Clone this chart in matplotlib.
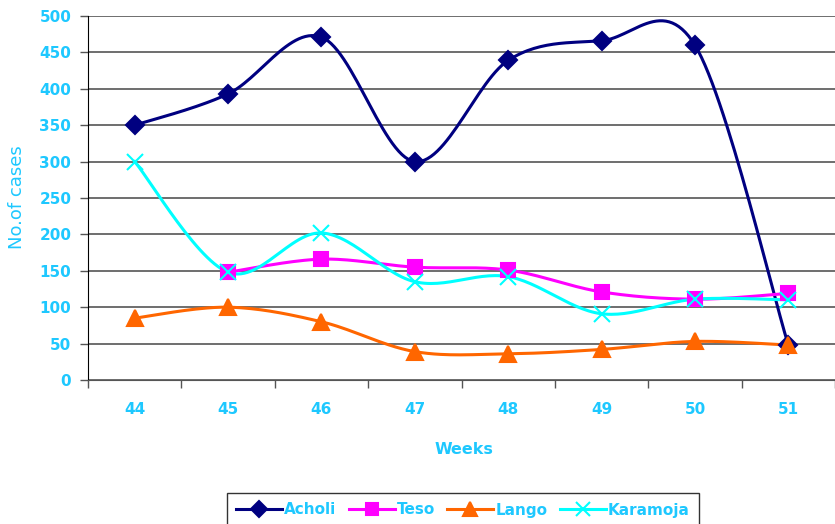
import numpy as np
import matplotlib
matplotlib.use("Agg")
import matplotlib.pyplot as plt
from matplotlib.lines import Line2D

weeks = ["44", "45", "46", "47", "48", "49", "50", "51"]
acholi = [350, 393, 471, 300, 439, 466, 460, 48]
teso = [None, 148, 166, 155, 151, 121, 111, 119]
lango = [85, 100, 80, 39, 36, 42, 53, 48]
karamoja = [300, 148, 202, 135, 142, 91, 111, 110]

blue_txt = "#1ec8ff"


def smooth(xs, ys, n=30):
    # Excel style smoothed line (cardinal bezier through the points)
    xs = np.asarray(xs, float)
    ys = np.asarray(ys, float)
    px, py = [], []
    for i in range(len(xs) - 1):
        x0, y0 = (xs[i - 1], ys[i - 1]) if i > 0 else (xs[i], ys[i])
        x3, y3 = (xs[i + 2], ys[i + 2]) if i + 2 < len(xs) else (xs[i + 1], ys[i + 1])
        x1, y1 = xs[i], ys[i]
        x2, y2 = xs[i + 1], ys[i + 1]
        c1x, c1y = x1 + (x2 - x0) / 6, y1 + (y2 - y0) / 6
        c2x, c2y = x2 - (x3 - x1) / 6, y2 - (y3 - y1) / 6
        t = np.linspace(0, 1, n)
        a, b, c, d = (1 - t) ** 3, 3 * (1 - t) ** 2 * t, 3 * (1 - t) * t ** 2, t ** 3
        px.extend(a * x1 + b * c1x + c * c2x + d * x2)
        py.extend(a * y1 + b * c1y + c * c2y + d * y2)
    return px, py


fig = plt.figure(figsize=(8.35, 5.24), dpi=100)
ax = fig.add_axes([88 / 835, 1 - 380 / 524, 1 - 88 / 835, 364 / 524])

series = [
    ("Acholi", acholi, "#000080", "D", 9),
    ("Teso", teso, "#ff00ff", "s", 10),
    ("Lango", lango, "#ff6600", "^", 11),
    ("Karamoja", karamoja, "#00ffff", "x", 11),
]

handles = []
for name, vals, col, mk, ms in series:
    xs = [i for i, v in enumerate(vals) if v is not None]
    ys = [v for v in vals if v is not None]
    sx, sy = smooth(xs, ys)
    ax.plot(sx, sy, color=col, lw=2.2, zorder=3)
    ax.plot(xs, ys, ls="none", marker=mk, color=col, ms=ms, mew=1.5, zorder=4)
    handles.append(Line2D([], [], color=col, lw=2.2, marker=mk, ms=ms - 1, mew=1.5, label=name))

ax.set_xlim(-0.5, 7.45)
ax.set_ylim(0, 500)
ax.set_yticks(range(0, 501, 50))
ax.set_xticks(range(len(weeks)))
ax.set_xticklabels(weeks)
ax.set_xticks(np.arange(-0.5, 7.6, 1), minor=True)
ax.tick_params(axis="x", which="major", length=0, pad=16)
ax.tick_params(axis="x", which="minor", length=6, width=1, color="#555555")
ax.tick_params(axis="y", length=6, width=1, color="#555555", pad=6)
for lab in ax.get_xticklabels() + ax.get_yticklabels():
    lab.set_color(blue_txt)
    lab.set_fontsize(11)
    lab.set_fontweight("bold")
    lab.set_family("DejaVu Sans")

ax.grid(axis="y", color="#555555", lw=1.2)
ax.set_axisbelow(True)
for s in ["top", "right"]:
    ax.spines[s].set_visible(False)
ax.spines["left"].set_color("black")
ax.spines["bottom"].set_color("#555555")

fig.text(17 / 835, 1 - 197 / 524, "No.of cases", rotation=90, ha="center", va="center",
         color=blue_txt, fontsize=13, family="DejaVu Sans")
fig.text(464 / 835, 1 - 450 / 524, "Weeks", ha="center", va="center",
         color=blue_txt, fontsize=11.5, fontweight="bold", family="DejaVu Sans")

leg = fig.legend(handles=handles, loc="center", bbox_to_anchor=(463 / 835, 1 - 510 / 524),
                 ncol=4, frameon=True, fancybox=False, edgecolor="black",
                 handlelength=3.0, handletextpad=0.15, columnspacing=0.8,
                 borderpad=0.6, borderaxespad=0,
                 prop={"family": "DejaVu Sans", "size": 11, "weight": "bold"})
leg.get_frame().set_linewidth(1)
for t in leg.get_texts():
    t.set_color(blue_txt)

fig.savefig("out.png", dpi=100)
